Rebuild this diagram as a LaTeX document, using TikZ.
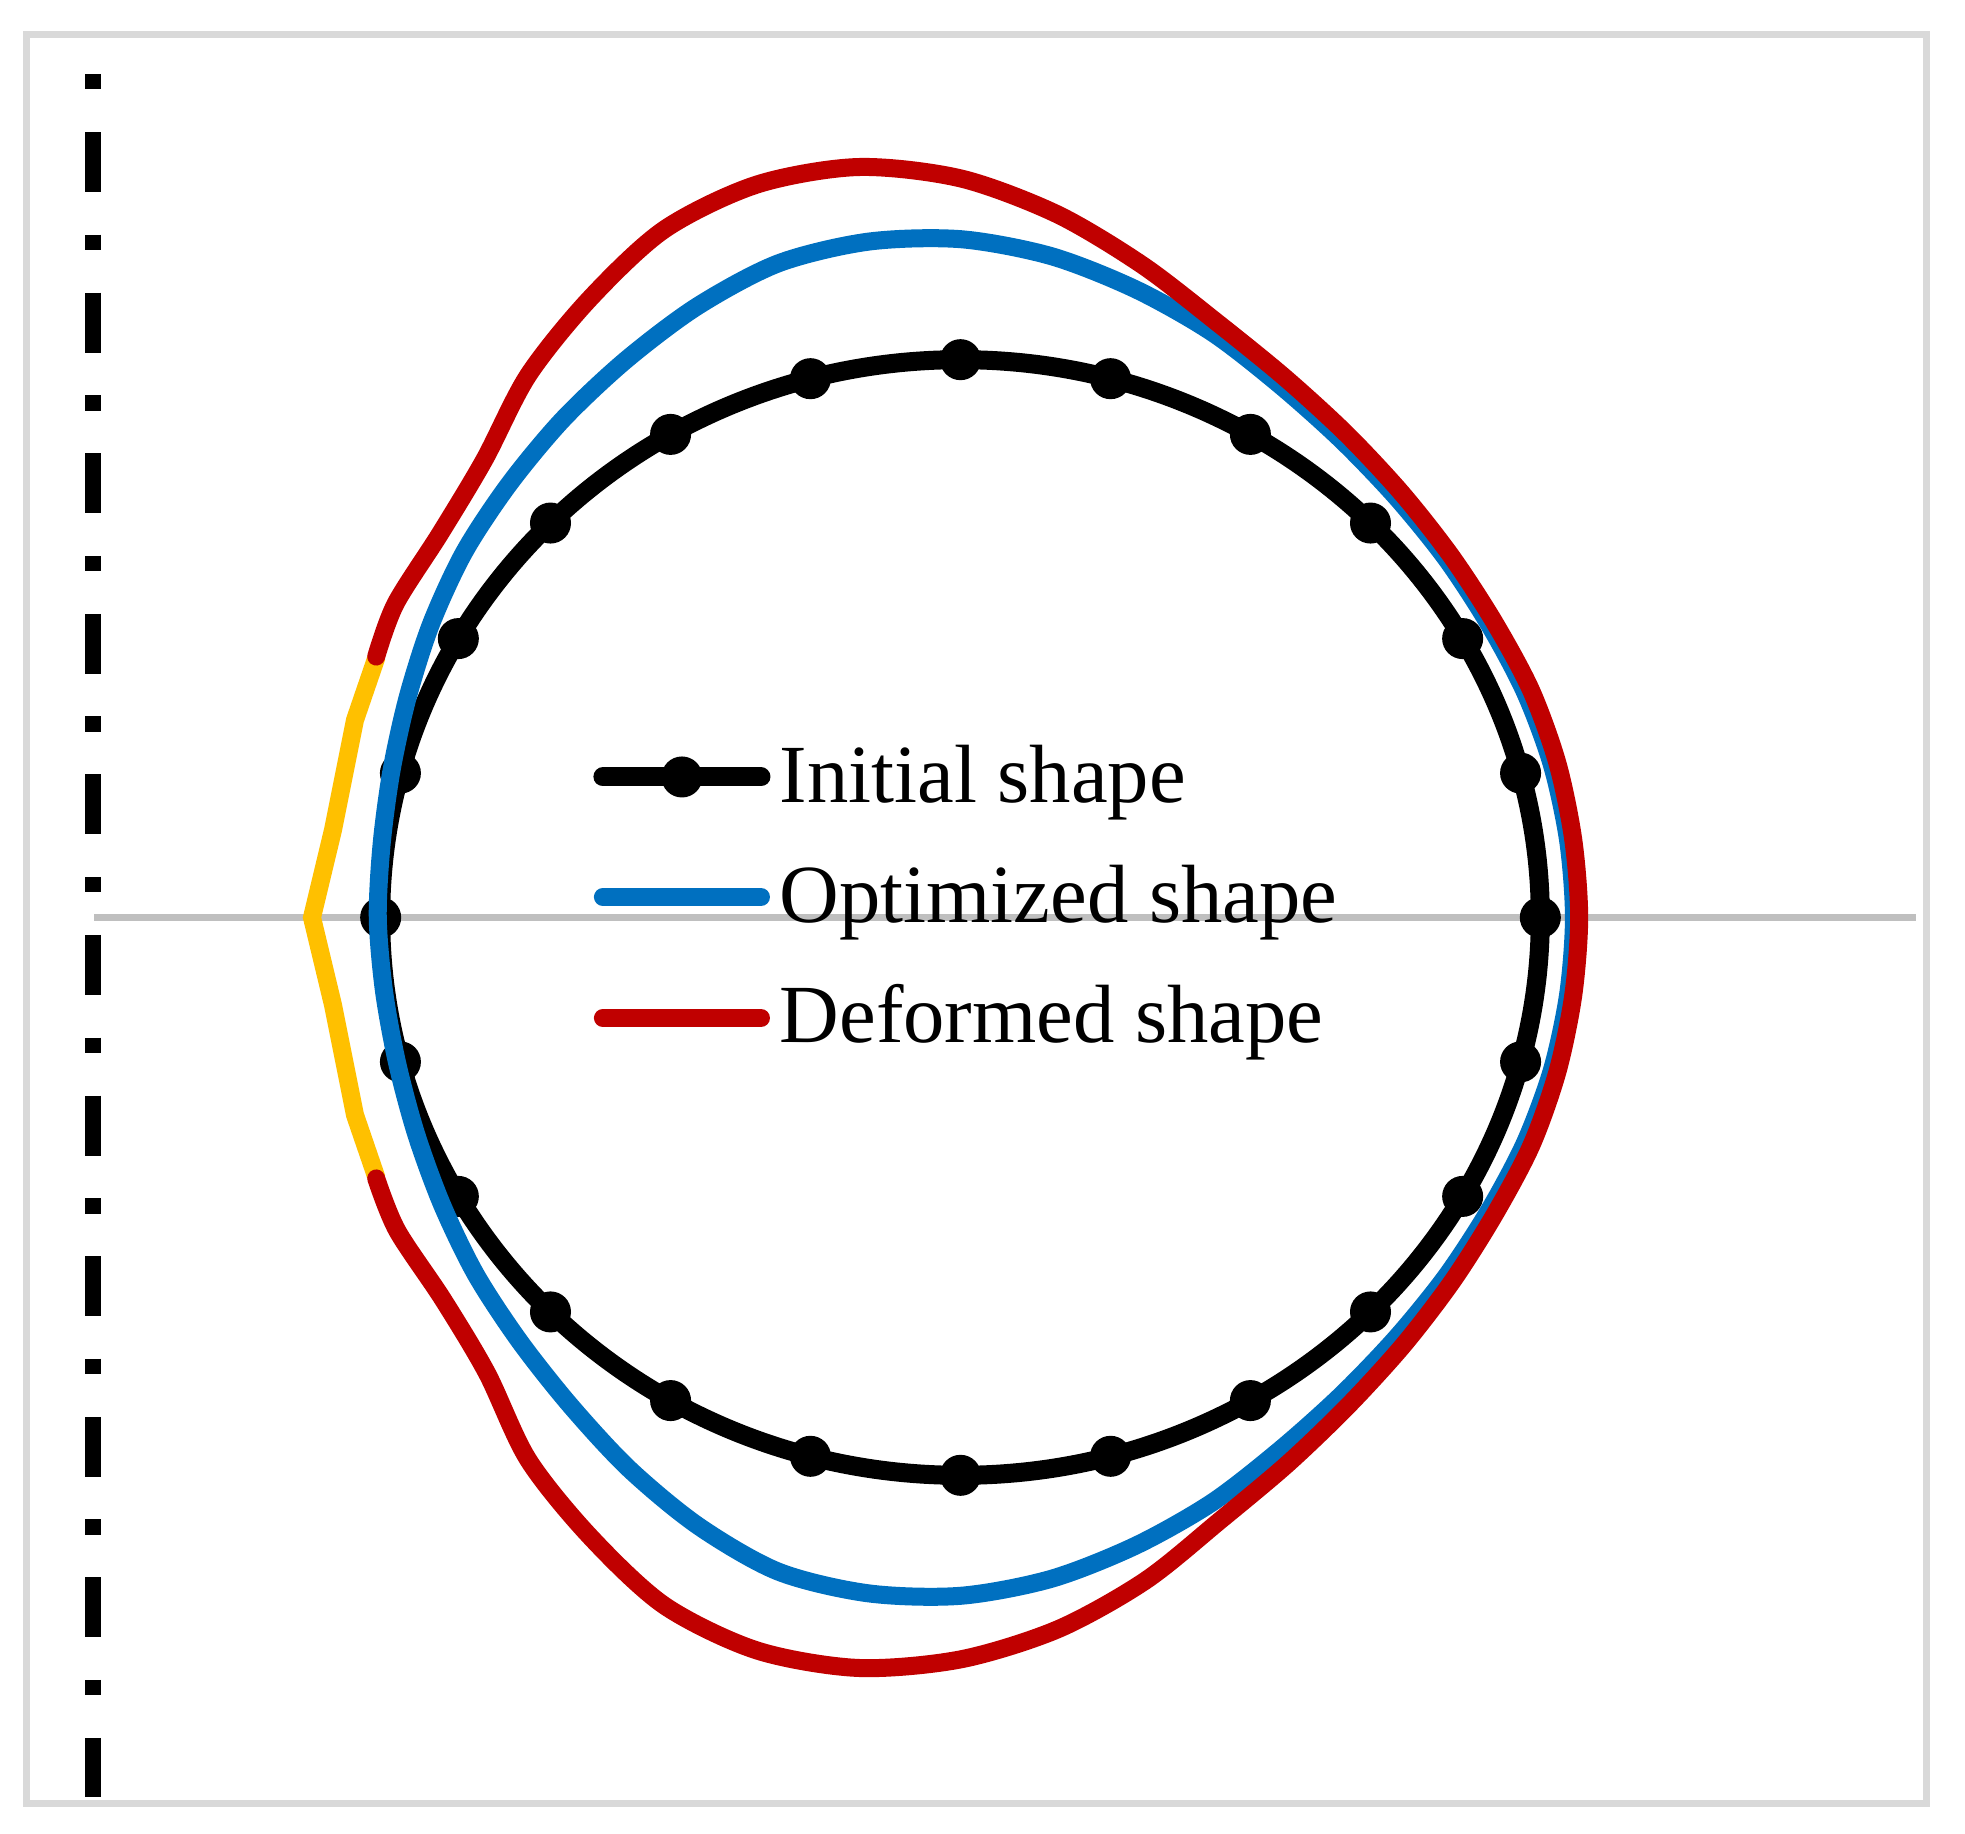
\documentclass[tikz,border=0pt]{standalone}
\usepackage{fontspec}
\setmainfont{Liberation Serif}
\definecolor{optblue}{HTML}{0070C0}
\definecolor{defred}{HTML}{C00000}
\definecolor{kinkyel}{HTML}{FFC000}
\definecolor{framegray}{HTML}{D9D9D9}
\definecolor{axisgray}{HTML}{BFBFBF}

\begin{document}
\begin{tikzpicture}[x=0.01cm, y=-0.01cm,
  initline/.style={black, line width=0.19cm},
  optline/.style={optblue, line width=0.18cm, line join=round},
  defline/.style={defred, line width=0.18cm, line cap=round, line join=round},
  legtext/.style={anchor=base west, inner sep=0pt, font=\fontsize{23.5}{28}\selectfont}]
\useasboundingbox (0,0) rectangle (1965,1834);
\draw[framegray, line width=0.07cm] (26.5,34.5) rectangle (1926.5,1803.5);
% symmetry axis and mid line
\draw[black, line width=0.16cm, dash pattern=on 0.155cm off 0.425cm on 0.6cm off 0.425cm] (93,74) -- (93,1797);
\draw[axisgray, line width=0.075cm] (94,917.5) -- (1916,917.5);

% kink near the axis
\draw[kinkyel, line width=0.18cm, line join=miter]
  (376.7,656.7) -- (355,720) -- (333,830) -- (312,917.5) -- (333,1005) -- (355,1115) -- (376.7,1178.3);

% shapes in units of the initial radius
\begin{scope}[shift={(960.5,917.5)}, x=5.795cm, y=5.575cm]
% initial shape, 24 points
\draw[initline] (0,0) circle[radius=1];
\foreach \a in {0,15,...,345}
  \fill (\a:1) circle[radius=0.205cm];

% optimized shape
\draw[optline] plot[smooth cycle] coordinates {
  (0:1.058) (7.5:1.057) (15:1.056) (22.5:1.054) (30:1.052) (37.5:1.056)
  (45:1.064) (52.5:1.079) (60:1.102) (67.5:1.135) (75:1.166) (82.5:1.196)
  (90:1.216) (97.5:1.222) (105:1.214) (112.5:1.186) (120:1.154)
  (127.5:1.126) (135:1.100) (142.5:1.078) (150:1.054) (157.5:1.032)
  (165:1.016) (172.5:1.007) (180:1.005)
  (187.5:1.003) (195:1.006) (202.5:1.016) (210:1.032) (217.5:1.053)
  (225:1.075) (232.5:1.104) (240:1.142) (247.5:1.181) (255:1.214)
  (262.5:1.222) (270:1.216) (277.5:1.196) (285:1.166) (292.5:1.135)
  (300:1.102) (307.5:1.079) (315:1.064) (322.5:1.056) (330:1.052)
  (337.5:1.054) (345:1.056) (352.5:1.057)};

% deformed shape
\draw[defline] plot[smooth] coordinates {
  (155.1:1.111) (150:1.125) (142.5:1.131) (135:1.161) (127.5:1.225)
  (120:1.280) (112.5:1.335) (105:1.360) (97.5:1.357) (90:1.325)
  (82.5:1.272) (75:1.211) (67.5:1.155) (60:1.118) (52.5:1.093)
  (45:1.076) (37.5:1.066) (30:1.062) (22.5:1.065) (15:1.066)
  (7.5:1.066) (0:1.067)
  (-7.5:1.066) (-15:1.066) (-22.5:1.066) (-30:1.064) (-37.5:1.070)
  (-45:1.082) (-52.5:1.101) (-60:1.130) (-67.5:1.170) (-75:1.231)
  (-82.5:1.287) (-90:1.330) (-97.5:1.357) (-105:1.360) (-112.5:1.335)
  (-120:1.280) (-127.5:1.225) (-135:1.155) (-142.5:1.125) (-150:1.122)
  (-155.1:1.111)};
\end{scope}

% legend
\node[legtext] (initxt) at (779,803) {Initial shape};
\node[legtext] (opttxt) at (779,923) {Optimized shape};
\node[legtext] (deftxt) at (779,1043) {Deformed shape};
\draw[initline, line cap=round] ([xshift=-0.18cm, yshift=0.26cm]initxt.base west) -- ++(-1.58cm,0)
  coordinate[midway] (initmark);
\fill (initmark) circle[radius=0.205cm];
\draw[optline, line cap=round] ([xshift=-0.18cm, yshift=0.26cm]opttxt.base west) -- ++(-1.58cm,0);
\draw[defline] ([xshift=-0.18cm, yshift=0.25cm]deftxt.base west) -- ++(-1.58cm,0);
\end{tikzpicture}
\end{document}
